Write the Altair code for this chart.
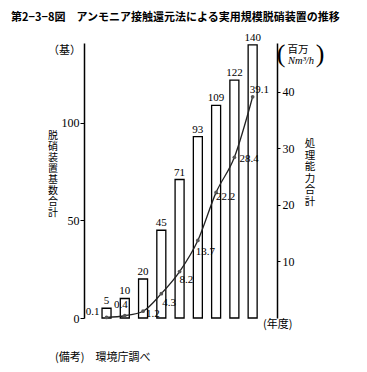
import altair as alt
import pandas as pd

# ---- data ----
years = [47, 48, 49, 50, 51, 52, 53, 54, 55]
units = [5, 10, 20, 45, 71, 93, 109, 122, 140]
capacity = [0.1, 0.4, 1.2, 4.3, 8.2, 13.7, 22.2, 28.4, 39.1]
capacity_labels = ["0.1", "0.4", "1.2", "4.3", "8.2", "13.7", "22.2", "28.4", "39.1"]

df = pd.DataFrame({"year": years, "units": units, "cap": capacity, "cap_label": capacity_labels})

W, H = 193, 275
SERIF = "Liberation Serif"
JP = "Noto Sans CJK JP"
INK = "#222222"

xscale = alt.Scale(domain=[46.04, 56.06], nice=False, zero=False)
yLscale = alt.Scale(domain=[0, 141], nice=False)
yRscale = alt.Scale(domain=[0, 48.6], nice=False)

x_axis = alt.X("year:Q", scale=xscale,
               axis=alt.Axis(values=years, format="d", ticks=False, grid=False,
                             labelFont=SERIF, labelFontSize=12, labelColor="black",
                             labelPadding=3, domainColor="black", domainWidth=1.5,
                             title=None))
x_plain = alt.X("year:Q", scale=xscale, axis=None)

yL = alt.Y("units:Q", scale=yLscale,
           axis=alt.Axis(values=[0, 50, 100], grid=False, title=None,
                         tickSize=4, tickColor="black", labelPadding=1,
                         labelFont=SERIF, labelFontSize=12, labelColor="black",
                         domainColor="black", domainWidth=1.5))
yL_plain = alt.Y("units:Q", scale=yLscale)

yR = alt.Y("cap:Q", scale=yRscale,
           axis=alt.Axis(orient="right", values=[10, 20, 30, 40], grid=False, title=None,
                         tickSize=3, tickColor="black", labelPadding=2,
                         labelFont=SERIF, labelFontSize=12, labelColor="black",
                         domainColor="black", domainWidth=1.5))
yR_plain = alt.Y("cap:Q", scale=yRscale)

base = alt.Chart(df)

bars = base.mark_bar(fill="white", stroke="black", strokeWidth=1.3, size=9).encode(x=x_axis, y=yL)
bar_text = base.mark_text(font=SERIF, fontSize=11, baseline="bottom", dy=-2, color="black").encode(
    x=x_plain, y=yL_plain, text="units:Q")
left_layer = alt.layer(bars, bar_text)

line = base.mark_line(color=INK, strokeWidth=1.3, interpolate="monotone").encode(x=x_plain, y=yR)
pts = base.mark_circle(size=14, color="#555555", opacity=1).encode(x=x_plain, y=yR_plain)

# label placement (align, dx, dy) per year
label_style = {
    47: ("right", -7, -5),
    48: ("center", -4, -11),
    49: ("left", 3, 3),
    50: ("left", 1, 9),
    51: ("left", 0, 8),
    52: ("left", -2, 12),
    53: ("left", 0, 5),
    54: ("left", 5, 2),
    55: ("left", -3, -7),
}
cap_texts = []
for yr, (al, dx, dy) in label_style.items():
    cap_texts.append(
        base.transform_filter(alt.datum.year == yr)
        .mark_text(font=SERIF, fontSize=11, align=al, baseline="middle", dx=dx, dy=dy, color="black")
        .encode(x=x_plain, y=yR_plain, text="cap_label:N")
    )
right_layer = alt.layer(line, pts, *cap_texts)

# ---- annotations ----
one = pd.DataFrame({"_": [0]})


def note(text, x, y, font=JP, size=11, align="left", baseline="middle", **kw):
    return alt.Chart(one).mark_text(font=font, fontSize=size, align=align, baseline=baseline,
                                    color="black", **kw).encode(
        x=alt.value(x), y=alt.value(y), text=alt.value(text))


def vertical(text, x, y0, step, size):
    return [note(ch, x, y0 + i * step, size=size, align="center") for i, ch in enumerate(text)]


annots = [
    note("第2−3−8図　アンモニア接触還元法による実用規模脱硝装置の推移", -73, -25, size=11, fontWeight="bold"),
    note("（基）", -3, 8, size=11, align="right"),
    *vertical("脱硝装置基数合計", -31, 93, 11, 10),
    *vertical("処理能力合計", 226, 101, 11.5, 10.5),
    note("(", 197, 11, font=SERIF, size=26, align="center"),
    note(")", 236, 11, font=SERIF, size=26, align="center"),
    note("百万", 214, 7, size=10.5, align="center"),
    note("Nm³/h", 217, 18, font=SERIF, size=10.5, align="center", fontStyle="italic"),
    note("(年度)", 179, 282, size=11),
    note("(備考)　環境庁調べ", -29, 315, size=11),
]

chart = alt.layer(left_layer, right_layer, *annots).resolve_scale(y="independent").properties(
    width=W, height=H,
    autosize=alt.AutoSizeParams(type="none"),
    padding={"left": 76, "top": 35, "right": 82, "bottom": 46},
).configure_view(stroke=None)

chart.save("out.html", embed_options={"renderer": "svg", "actions": False})
